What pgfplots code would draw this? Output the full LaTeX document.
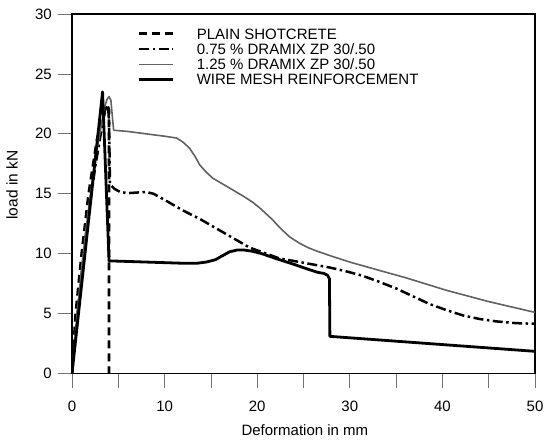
\documentclass[border=0pt]{standalone}
\usepackage{fontspec}
\setmainfont{Liberation Sans}
\usepackage{pgfplots}
\pgfplotsset{compat=1.18}
\begin{document}
\begin{tikzpicture}
\begin{axis}[
  name=ax, scale only axis, width=463pt, height=359.5pt,
  xmin=0, xmax=50, ymin=0, ymax=30,
  xtick={0,10,...,50}, minor xtick={5,15,...,45},
  ytick={0,5,...,30},
  tick pos=left, tick align=outside,
  every tick/.style={black!55, line width=0.8pt},
  every minor tick/.style={black!55, line width=0.8pt},
  major tick length=14pt, minor tick length=14pt,
  axis line style={line width=1.1pt},
  font=\fontsize{15}{16}\selectfont,
  /pgf/number format/assume math mode=true,
  tick label style={font=\fontsize{15}{16}\selectfont, inner sep=0pt},
  xticklabel shift=13pt,
  yticklabel shift=6pt,
  xlabel={Deformation in mm}, ylabel={load in kN},
  every axis x label/.style={at={(axis description cs:0.503,-0.1725)}, anchor=base, inner sep=0pt, font=\fontsize{15}{16}\selectfont},
  every axis y label/.style={at={(axis description cs:-0.1177,0.524)}, rotate=90, anchor=base, inner sep=0pt, font=\fontsize{15.5}{16}\selectfont},
  legend cell align=left,
  legend image code/.code={\draw[#1] (0pt,0pt) -- (34pt,0pt);},
  legend style={at={(axis description cs:0.1425,0.96)}, anchor=north west, draw=none, fill=none, inner sep=0pt, outer sep=0pt, row sep=4.6pt,
    nodes={inner sep=0pt, text height=10.7pt, text depth=0pt, font=\fontsize{15}{16}\selectfont},
    /tikz/every odd column/.append style={column sep=22pt}},
]
\addplot[black, line width=2.8pt, dash pattern=on 8pt off 5pt] coordinates {
(0,0) (0.4,5) (1.05,10) (1.8,15) (2.7,19.5) (3.3,21.5) (3.8,22.4) (4.0,22.0) (4.0,0)};
\addlegendentry{PLAIN SHOTCRETE}
\addplot[black, line width=2.5pt, dash pattern=on 10pt off 3.5pt on 2.5pt off 3.5pt, line join=round] coordinates {
(0,0) (0.5,4.3) (1,8) (1.5,11.5) (2,14.5) (2.5,17.2) (3,19.5) (3.4,21.3) (3.7,22.2) (3.9,22.3) (4.0,21) (4.1,15.8)
(4.6,15.4) (5.2,15.15) (6,15.05) (7,15.1) (8,15.15) (8.8,15.0) (9.5,14.7) (10.2,14.4) (12,13.6) (13.8,12.9)
(15.6,12.1) (17.4,11.3) (19.2,10.5) (21,10.0) (22.4,9.6) (24.6,9.3) (26,9.1) (27.8,8.85) (29.5,8.55)
(31.4,8.15) (33,7.7) (35,7.1) (36.8,6.45) (38.6,5.8) (40.4,5.3) (42.2,4.85) (44,4.55) (45.8,4.35) (48,4.2) (50,4.15)};
\addlegendentry{0.75 \% DRAMIX ZP 30/.50}
\addplot[black!62, line width=1.6pt, line join=round] coordinates {
(0,0) (0.5,4.5) (1,8.5) (1.5,12) (2,15) (2.5,17.8) (3,20) (3.5,22.2) (3.8,22.9) (4.0,23.1) (4.2,22.8) (4.35,21.5) (4.5,20.3)
(6,20.2) (8,20.0) (10,19.8) (11.3,19.65) (12,19.3) (12.7,18.8) (13.3,18.1) (13.8,17.4) (14.5,16.8) (15.2,16.3)
(16.3,15.8) (17.4,15.3) (18.5,14.8) (19.5,14.3) (20.3,13.8) (21,13.3) (21.7,12.8) (22.4,12.2) (23.5,11.4) (24.5,10.9)
(25.5,10.5) (26.5,10.2) (28,9.8) (30,9.3) (33.2,8.6) (36,8.0) (40.4,6.95) (45,6.0) (50,5.1)};
\addlegendentry{1.25 \% DRAMIX ZP 30/.50}
\addplot[black, line width=2.8pt, line join=round] coordinates {
(0,0) (3.3,23.5) (4.0,9.4) (6,9.35) (10,9.25) (12,9.2) (13.5,9.2) (14.5,9.3) (15.5,9.5) (16.3,9.85) (17,10.15)
(17.8,10.3) (18.6,10.3) (19.5,10.2) (20.5,10.0) (22,9.6) (24,9.1) (25.5,8.7) (26.5,8.45) (27.2,8.35) (27.6,8.2)
(27.8,7.9) (27.85,3.1) (50,1.85)};
\addlegendentry{WIRE MESH REINFORCEMENT}
\end{axis}
\pgfresetboundingbox
\path[use as bounding box] ([shift={(-72pt,-68pt)}]ax.south west) rectangle ([shift={(10pt,14pt)}]ax.north east);
\end{tikzpicture}
\end{document}
